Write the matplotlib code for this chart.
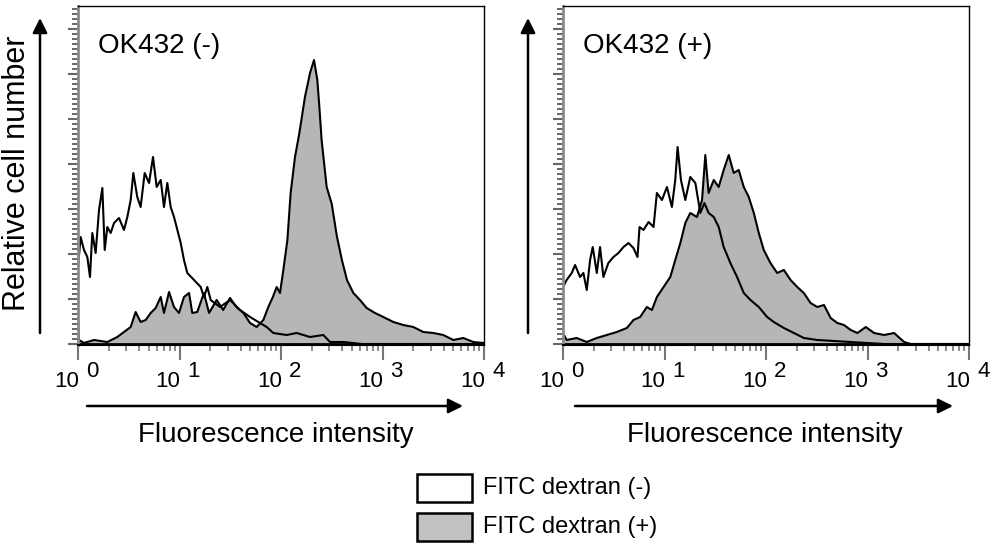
import numpy as np
import matplotlib
matplotlib.use("Agg")
import matplotlib.pyplot as plt
from matplotlib.ticker import FixedLocator, NullFormatter

plt.rcParams['font.family'] = ['Liberation Sans', 'DejaVu Sans']

# x values are log10(fluorescence intensity), y values are relative cell number
# OK432 (-), FITC dextran (-)
neg_open_x = [0.0, 0.026, 0.059, 0.092, 0.118, 0.141, 0.174, 0.207, 0.240, 0.263,
              0.289, 0.322, 0.355, 0.404, 0.453, 0.486, 0.519, 0.545, 0.584, 0.617,
              0.657, 0.700, 0.739, 0.775, 0.815, 0.847, 0.880, 0.913, 0.946, 0.979,
              1.012, 1.044, 1.077, 1.143, 1.209, 1.241, 1.274, 1.307, 1.399, 1.498,
              1.596, 1.695, 1.793, 1.859, 1.924, 2.056, 2.154, 2.286, 2.417, 2.483,
              2.614, 2.8, 4.0]
neg_open_y = [77, 107, 94, 87, 67, 111, 91, 134, 156, 94,
              117, 111, 121, 126, 114, 127, 144, 171, 147, 137,
              171, 161, 187, 157, 164, 137, 161, 137, 127, 114,
              101, 84, 71, 64, 57, 47, 57, 44, 37, 44,
              34, 27, 21, 17, 11, 9, 11, 7, 9, 2,
              2, 0, 0]

# OK432 (-), FITC dextran (+)
neg_fill_x = [0.0, 0.01, 0.059, 0.158, 0.289, 0.387, 0.453, 0.519, 0.568, 0.617,
              0.667, 0.716, 0.765, 0.815, 0.847, 0.897, 0.946, 0.995, 1.044, 1.094,
              1.126, 1.175, 1.241, 1.291, 1.366, 1.43, 1.498, 1.56, 1.63, 1.695,
              1.76, 1.826, 1.875, 1.92, 1.957, 1.99, 2.023, 2.063, 2.095, 2.138,
              2.181, 2.236, 2.286, 2.325, 2.358, 2.378, 2.40, 2.45, 2.50, 2.55,
              2.60, 2.65, 2.713, 2.778, 2.844, 2.926, 3.008, 3.107, 3.205, 3.304,
              3.402, 3.501, 3.599, 3.698, 3.796, 3.895, 4.0]
neg_fill_y = [22, 4, 1, 4, 2, 7, 12, 17, 32, 22,
              24, 31, 36, 47, 31, 52, 37, 31, 47, 51,
              31, 32, 51, 31, 44, 34, 46, 37, 31, 21,
              17, 24, 37, 47, 57, 51, 74, 104, 151, 187,
              211, 247, 271, 284, 264, 237, 204, 157, 140, 108,
              84, 64, 51, 44, 36, 31, 27, 22, 19, 17,
              12, 11, 9, 4, 6, 2, 1]

# OK432 (+), FITC dextran (-)
pos_open_x = [0.0, 0.036, 0.086, 0.119, 0.168, 0.201, 0.234, 0.267, 0.293, 0.333,
              0.365, 0.398, 0.447, 0.497, 0.546, 0.596, 0.645, 0.694, 0.734, 0.754,
              0.793, 0.843, 0.892, 0.925, 0.975, 1.024, 1.073, 1.106, 1.129, 1.162,
              1.205, 1.254, 1.304, 1.353, 1.393, 1.435, 1.485, 1.534, 1.583, 1.649,
              1.715, 1.781, 1.847, 1.929, 2.011, 2.077, 2.176, 2.275, 2.373, 2.505,
              2.670, 2.835, 2.999, 3.164, 4.0]
pos_open_y = [57, 64, 71, 79, 67, 71, 54, 84, 97, 71,
              97, 67, 81, 87, 91, 97, 101, 96, 87, 117,
              114, 122, 117, 151, 144, 157, 137, 164, 197, 164,
              144, 167, 161, 131, 141, 131, 127, 117, 97, 81,
              67, 51, 44, 37, 27, 22, 16, 11, 6, 4,
              3, 2, 1, 0, 0]

# OK432 (+), FITC dextran (+)
pos_fill_x = [0.0, 0.036, 0.135, 0.234, 0.333, 0.431, 0.530, 0.629, 0.694, 0.760,
              0.826, 0.876, 0.925, 0.991, 1.057, 1.106, 1.156, 1.205, 1.254, 1.320,
              1.370, 1.402, 1.435, 1.485, 1.534, 1.583, 1.633, 1.682, 1.731, 1.781,
              1.830, 1.880, 1.929, 1.978, 2.044, 2.110, 2.176, 2.242, 2.308, 2.373,
              2.439, 2.505, 2.571, 2.637, 2.703, 2.768, 2.835, 2.901, 2.983, 3.065,
              3.164, 3.262, 3.361, 3.427, 4.0]
pos_fill_y = [11, 4, 6, 2, 6, 9, 12, 16, 24, 27,
              37, 34, 47, 57, 67, 84, 101, 121, 131, 127,
              144, 189, 151, 164, 157, 174, 189, 171, 174, 157,
              147, 131, 111, 94, 81, 71, 74, 64, 57, 51,
              41, 37, 39, 26, 21, 19, 14, 11, 17, 11,
              9, 11, 2, 0, 0]

panel_titles = ['OK432 (-)', 'OK432 (+)']
decades = [0, 1, 2, 3, 4]
legend_labels = ['FITC dextran (-)', 'FITC dextran (+)']

FILL = '#b6b6b6'
W, H = 1006, 545


def fx(x):
    return x / W


def fy(y):
    return 1 - y / H


fig = plt.figure(figsize=(W / 100, H / 100), dpi=100)

panels = [
    (78, neg_open_x, neg_open_y, neg_fill_x, neg_fill_y),
    (563, pos_open_x, pos_open_y, pos_fill_x, pos_fill_y),
]

for i, (left, ox, oy, gx, gy) in enumerate(panels):
    ax = fig.add_axes([fx(left), fy(345), 406 / W, 339 / H])
    gxv = 10 ** np.array(gx)
    oxv = 10 ** np.array(ox)
    ax.fill_between(gxv, gy, 0, color=FILL, lw=0)
    ax.plot(gxv, gy, color='black', lw=1.5)
    ax.plot(oxv, oy, color='black', lw=1.5)
    ax.axhline(0, color='black', lw=2)
    ax.set_xscale('log')
    ax.set_xlim(1, 1e4)
    ax.set_ylim(-1, 338)

    ax.xaxis.set_major_locator(FixedLocator([10.0 ** d for d in decades]))
    ax.xaxis.set_minor_locator(FixedLocator(
        [m * 10.0 ** d for d in decades[:-1] for m in range(2, 10)]))
    ax.xaxis.set_major_formatter(NullFormatter())
    ax.xaxis.set_minor_formatter(NullFormatter())
    ax.yaxis.set_major_locator(FixedLocator(np.arange(0, 338, 45)))
    ax.yaxis.set_minor_locator(FixedLocator(np.arange(0, 338, 5)))
    ax.yaxis.set_major_formatter(NullFormatter())
    ax.tick_params(axis='x', which='major', length=11, width=1.5, color='#777777')
    ax.tick_params(axis='x', which='minor', length=4, width=1.2, color='#777777')
    ax.tick_params(axis='y', which='major', length=7, width=1.5, color='#666666')
    ax.tick_params(axis='y', which='minor', length=4, width=1.4, color='#666666')

    for side in ['top', 'right']:
        ax.spines[side].set_linewidth(1.0)
        ax.spines[side].set_color('black')
    ax.spines['bottom'].set_linewidth(1.5)
    ax.spines['left'].set_linewidth(2.0)
    ax.spines['left'].set_color('#8a8a8a')

    # tick labels as "10" with a raised exponent
    for d in decades:
        ax.annotate('10', xy=(10.0 ** d, 0), xycoords=('data', 'axes fraction'),
                    xytext=(0.7, -30.2), textcoords='offset points',
                    ha='right', va='baseline', fontsize=16)
        ax.annotate(str(d), xy=(10.0 ** d, 0), xycoords=('data', 'axes fraction'),
                    xytext=(5.8, -23.0), textcoords='offset points',
                    ha='left', va='baseline', fontsize=16)

    ax.annotate(panel_titles[i], xy=(0, 1), xycoords='axes fraction',
                xytext=(14.5, -33.5), textcoords='offset points',
                ha='left', va='baseline', fontsize=20)

# axis arrows
arrow = dict(arrowstyle='-|>', color='black', lw=1.8, mutation_scale=22,
             shrinkA=0, shrinkB=0)
for x0, x1, cx in [(87, 463, 276), (575, 953, 765)]:
    fig.add_artist(matplotlib.patches.FancyArrowPatch(
        (fx(x0), fy(406)), (fx(x1), fy(406)), transform=fig.transFigure, **arrow))
    fig.text(fx(cx), fy(435), 'Fluorescence intensity', ha='center', va='center',
             fontsize=20)
for xa in [40, 528]:
    fig.add_artist(matplotlib.patches.FancyArrowPatch(
        (fx(xa), fy(333)), (fx(xa), fy(18)), transform=fig.transFigure, **arrow))
fig.text(fx(17), fy(173), 'Relative cell number', rotation=90,
         ha='center', va='center', fontsize=22)

# legend
for j, (label, face) in enumerate(zip(legend_labels, ['white', '#c2c2c2'])):
    top = 474 + j * 39
    fig.add_artist(matplotlib.patches.Rectangle(
        (fx(417), fy(top + 28)), 55 / W, 28 / H, transform=fig.transFigure,
        facecolor=face, edgecolor='black', lw=1.8))
    fig.text(fx(483), fy(top + 14), label, ha='left', va='center', fontsize=17)

fig.savefig('out.png', dpi=100)
